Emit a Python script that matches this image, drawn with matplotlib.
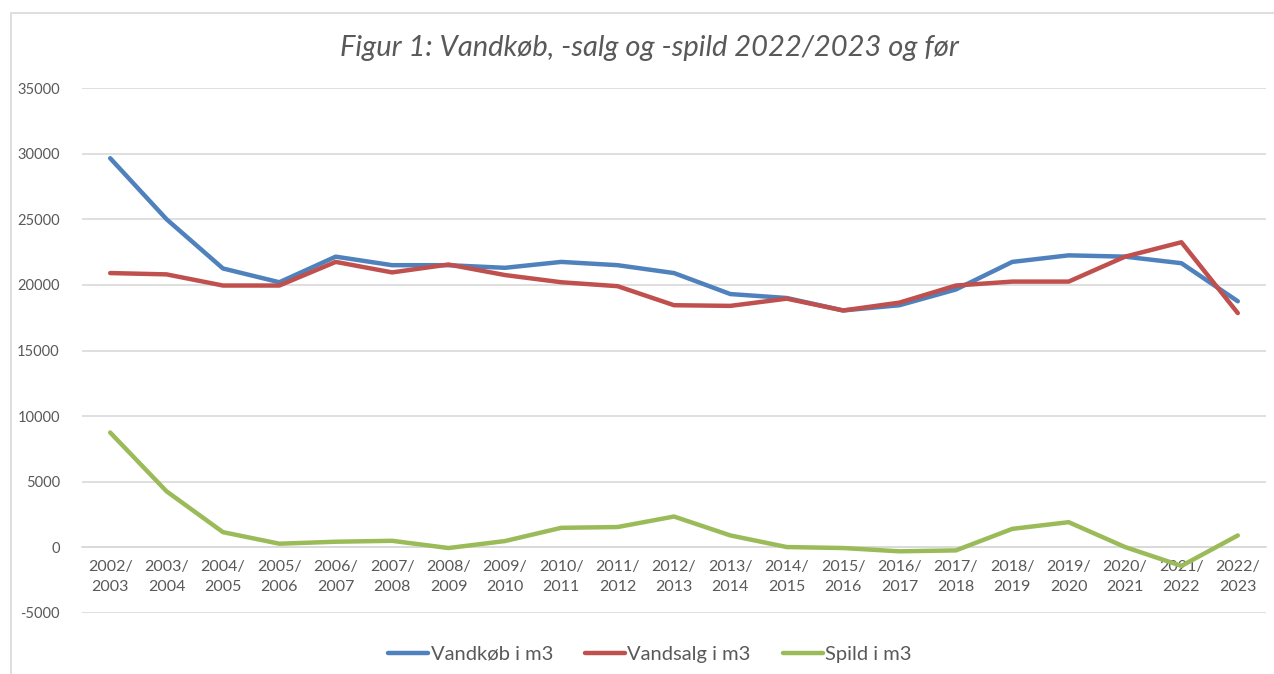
import numpy as np
import matplotlib.pyplot as plt
from matplotlib.patches import Rectangle

# data
seasons = ['2002/\n2003', '2003/\n2004', '2004/\n2005', '2005/\n2006', '2006/\n2007',
           '2007/\n2008', '2008/\n2009', '2009/\n2010', '2010/\n2011', '2011/\n2012',
           '2012/\n2013', '2013/\n2014', '2014/\n2015', '2015/\n2016', '2016/\n2017',
           '2017/\n2018', '2018/\n2019', '2019/\n2020', '2020/\n2021', '2021/\n2022',
           '2022/\n2023']
vandkoeb = [29650, 25000, 21250, 20200, 22150, 21500, 21500, 21300, 21750, 21500,
            20900, 19300, 19000, 18050, 18450, 19650, 21750, 22250, 22150, 21650, 18750]
vandsalg = [20900, 20800, 19950, 19950, 21750, 20950, 21550, 20750, 20200, 19900,
            18450, 18400, 18950, 18050, 18650, 19950, 20250, 20250, 22150, 23250, 17850]
spild = [8750, 4270, 1160, 280, 430, 500, -50, 480, 1490, 1550,
         2350, 910, 25, -50, -300, -230, 1410, 1920, 25, -1410, 910]
y_ticks = [-5000, 0, 5000, 10000, 15000, 20000, 25000, 30000, 35000]

grey_txt = '#595959'
grid_col = '#d9d9d9'
plt.rcParams['font.family'] = ['Lato', 'DejaVu Sans']

W, H = 1274, 674
fig = plt.figure(figsize=(W / 100, H / 100), dpi=100)
ax = fig.add_axes([82 / W, 1 - 613 / H, (1266 - 82) / W, (613 - 88) / H])

x = np.arange(len(seasons))
ax.plot(x, vandkoeb, color='#4f81bd', lw=3.2, label='Vandkøb i m3', solid_capstyle='round')
ax.plot(x, vandsalg, color='#c0504d', lw=3.2, label='Vandsalg i m3', solid_capstyle='round')
ax.plot(x, spild, color='#9bbb59', lw=3.2, label='Spild i m3', solid_capstyle='round')

ax.set_xlim(-0.5, len(seasons) - 0.5)
ax.set_ylim(-5000, 35000)
ax.set_yticks(y_ticks)
ax.set_yticklabels([str(v) for v in y_ticks])
ax.grid(axis='y', color=grid_col, lw=1.2)
ax.set_axisbelow(True)
for s in ['top', 'right', 'left']:
    ax.spines[s].set_visible(False)
ax.spines['bottom'].set_position(('data', 0))
ax.spines['bottom'].set_color(grid_col)
ax.spines['bottom'].set_linewidth(1.2)
ax.spines['bottom'].set_zorder(0)
ax.set_xticks(x)
ax.set_xticklabels(seasons, linespacing=1.55)
ax.tick_params(axis='x', length=0, pad=9, labelsize=11.5, colors=grey_txt)
ax.tick_params(axis='y', length=0, pad=16, labelsize=10.5, colors=grey_txt)

fig.text(0.51, 1 - 48 / H, 'Figur 1: Vandkøb, -salg og -spild 2022/2023 og før',
         ha='center', va='center', fontsize=21, style='italic', color=grey_txt)

leg = fig.legend(loc='center', bbox_to_anchor=(650 / W, 1 - 654 / H), ncol=3, frameon=False,
                 fontsize=14.5, handlelength=2.0, handletextpad=0.1, columnspacing=1.6)
for t in leg.get_texts():
    t.set_color(grey_txt)

fig.patches.append(Rectangle((11 / W, -0.1), 1.2, 1 - 13 / H + 0.1, transform=fig.transFigure,
                             fill=False, edgecolor=grid_col, lw=1.2))

fig.savefig('out.png', dpi=100)
